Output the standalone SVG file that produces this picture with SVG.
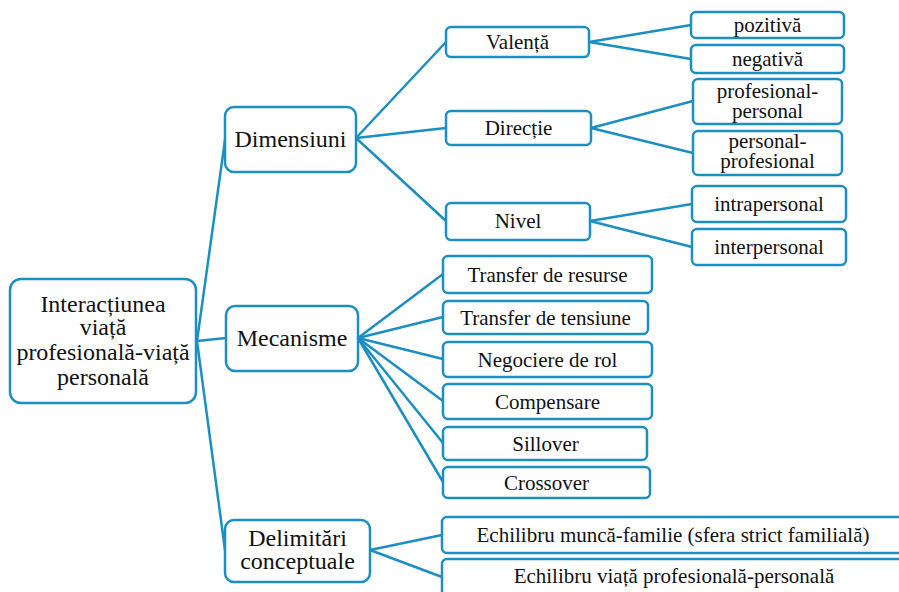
<svg xmlns="http://www.w3.org/2000/svg" width="899" height="592" viewBox="0 0 899 592">
<style>
.b{fill:#fff;stroke:#1b8fc2;stroke-width:2.5}
.t{font-family:'Liberation Serif','Times New Roman',Times,'DejaVu Serif',serif;fill:#111;text-anchor:middle}
.l1{font-size:24px}
.l2{font-size:21px}
#connectors line{stroke:#1b8fc2;stroke-width:2.5;stroke-linecap:round}
</style>
<rect width="899" height="592" fill="#fff"/>
<g id="connectors">
<line x1="197" y1="341" x2="225" y2="140"/>
<line x1="197" y1="341" x2="226" y2="338"/>
<line x1="197" y1="341" x2="225" y2="550"/>
<line x1="356" y1="138" x2="446" y2="42"/>
<line x1="356" y1="138" x2="446" y2="128"/>
<line x1="356" y1="138" x2="446" y2="221"/>
<line x1="589" y1="42" x2="691" y2="25"/>
<line x1="589" y1="42" x2="691" y2="59"/>
<line x1="591" y1="128" x2="693" y2="101"/>
<line x1="591" y1="128" x2="693" y2="153"/>
<line x1="590" y1="221" x2="692" y2="204"/>
<line x1="590" y1="221" x2="692" y2="247"/>
<line x1="358" y1="338" x2="443" y2="274"/>
<line x1="358" y1="338" x2="443" y2="317"/>
<line x1="358" y1="338" x2="443" y2="359"/>
<line x1="358" y1="338" x2="443" y2="401"/>
<line x1="358" y1="338" x2="443" y2="443"/>
<line x1="358" y1="338" x2="443" y2="482"/>
<line x1="370" y1="550" x2="442" y2="535"/>
<line x1="370" y1="550" x2="442" y2="577"/>
</g>
<g id="root"><rect class="b" x="10" y="279" width="186" height="124" rx="11"/>
<text class="t l1" x="103" y="312">Interacțiunea</text><text class="t l1" x="103" y="335">viață</text><text class="t l1" x="103" y="360">profesională-viață</text><text class="t l1" x="103" y="385">personală</text></g>
<g id="dimensiuni"><rect class="b" x="225" y="107" width="131" height="65" rx="9"/><text class="t l1" x="290.5" y="147">Dimensiuni</text></g>
<g id="mecanisme"><rect class="b" x="226" y="306" width="132" height="65" rx="9"/><text class="t l1" x="292" y="346">Mecanisme</text></g>
<g id="delimitari"><rect class="b" x="225" y="520" width="145" height="62" rx="9"/><text class="t l1" x="297.5" y="546">Delimitări</text><text class="t l1" x="297.5" y="569">conceptuale</text></g>
<g id="valenta"><rect class="b" x="446" y="27" width="143" height="30" rx="5"/><text class="t l2" x="517.5" y="49">Valență</text></g>
<g id="directie"><rect class="b" x="446" y="111" width="145" height="34" rx="5"/><text class="t l2" x="518.5" y="135">Direcție</text></g>
<g id="nivel"><rect class="b" x="446" y="203" width="144" height="37" rx="5"/><text class="t l2" x="518" y="228">Nivel</text></g>
<g id="pozitiva"><rect class="b" x="691" y="12" width="153" height="26" rx="5"/><text class="t l2" x="767.5" y="32">pozitivă</text></g>
<g id="negativa"><rect class="b" x="691" y="45" width="153" height="28" rx="5"/><text class="t l2" x="767.5" y="66">negativă</text></g>
<g id="prof-pers"><rect class="b" x="693" y="79" width="149" height="45" rx="5"/><text class="t l2" x="767.5" y="98">profesional-</text><text class="t l2" x="767.5" y="118">personal</text></g>
<g id="pers-prof"><rect class="b" x="693" y="131" width="149" height="44" rx="5"/><text class="t l2" x="767.5" y="148">personal-</text><text class="t l2" x="767.5" y="168">profesional</text></g>
<g id="intrapersonal"><rect class="b" x="692" y="186" width="154" height="36" rx="5"/><text class="t l2" x="769" y="211">intrapersonal</text></g>
<g id="interpersonal"><rect class="b" x="692" y="229" width="154" height="36" rx="5"/><text class="t l2" x="769" y="254">interpersonal</text></g>
<g id="transfer-resurse"><rect class="b" x="443" y="256" width="209" height="37" rx="5"/><text class="t l2" x="547.5" y="282">Transfer de resurse</text></g>
<g id="transfer-tensiune"><rect class="b" x="443" y="301" width="205" height="33" rx="5"/><text class="t l2" x="545.5" y="325">Transfer de tensiune</text></g>
<g id="negociere"><rect class="b" x="443" y="342" width="209" height="35" rx="5"/><text class="t l2" x="547.5" y="367">Negociere de rol</text></g>
<g id="compensare"><rect class="b" x="443" y="384" width="209" height="35" rx="5"/><text class="t l2" x="547.5" y="409">Compensare</text></g>
<g id="sillover"><rect class="b" x="443" y="427" width="204" height="33" rx="5"/><text class="t l2" x="545.5" y="451">Sillover</text></g>
<g id="crossover"><rect class="b" x="443" y="467" width="207" height="31" rx="5"/><text class="t l2" x="546.5" y="490">Crossover</text></g>
<g id="echilibru-mf"><rect class="b" x="442" y="517" width="470" height="36" rx="5"/><text class="t l2" x="673" y="542">Echilibru muncă-familie (sfera strict familială)</text></g>
<g id="echilibru-vp"><rect class="b" x="442" y="559" width="470" height="40" rx="5"/><text class="t l2" x="674" y="583">Echilibru viață profesională-personală</text></g>
</svg>
